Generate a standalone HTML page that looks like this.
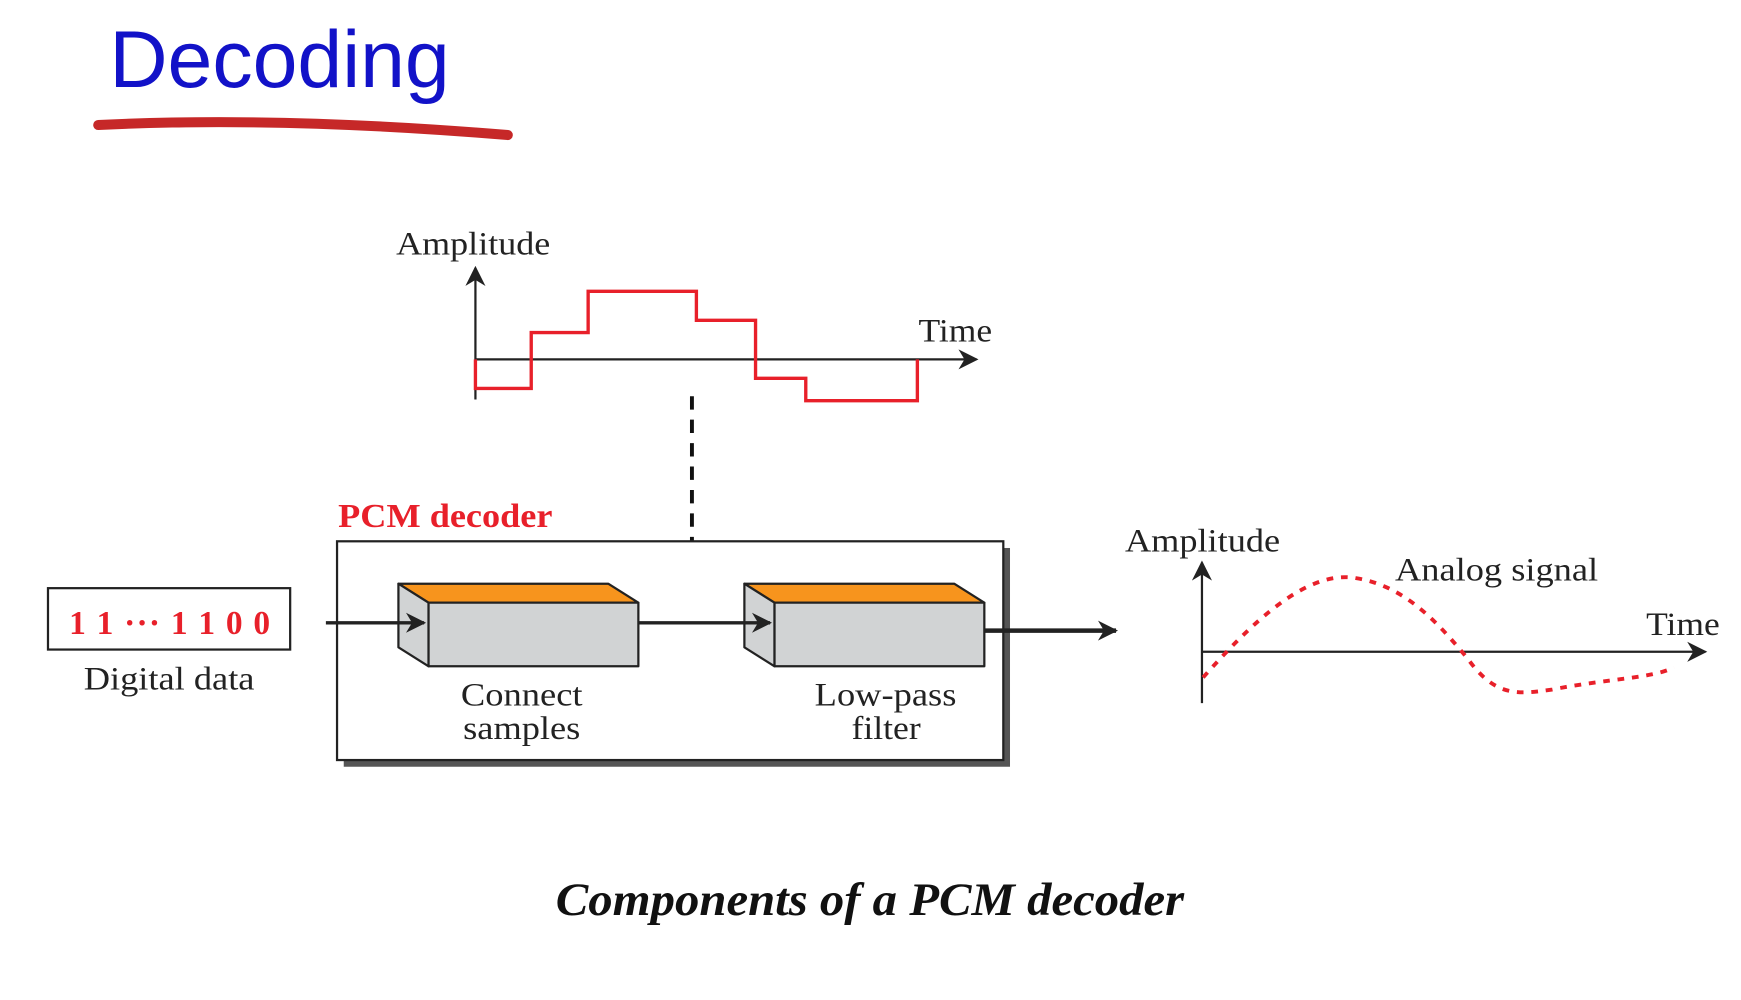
<!DOCTYPE html>
<html><head><meta charset="utf-8"><style>
html,body{margin:0;padding:0;background:#fff;width:1741px;height:1000px;overflow:hidden}
svg{display:block}
.s{font-family:"Liberation Serif",serif;fill:#222}
</style></head><body>
<svg width="1741" height="1000" viewBox="0 0 1560 896" preserveAspectRatio="none" xmlns="http://www.w3.org/2000/svg">
<defs>
<marker id="ah2" viewBox="0 0 10 10" refX="9" refY="5" markerWidth="18" markerHeight="18" orient="auto" markerUnits="userSpaceOnUse"><path d="M0,0 L10,5 L0,10 L3,5z" fill="#222"/></marker>
</defs>
<text x="98" y="78" font-family="Liberation Sans, sans-serif" font-size="72" fill="#1212c8" textLength="305" lengthAdjust="spacingAndGlyphs">Decoding</text>
<path d="M88,112 Q250,104 455,121" stroke="#c62828" stroke-width="9" fill="none" stroke-linecap="round"/>

<!-- top chart -->
<text class="s" x="355" y="228" font-size="29" textLength="138" lengthAdjust="spacingAndGlyphs">Amplitude</text>
<line x1="426" y1="358" x2="426" y2="240" stroke="#222" stroke-width="2" marker-end="url(#ah2)"/>
<line x1="426" y1="322" x2="875" y2="322" stroke="#222" stroke-width="2" marker-end="url(#ah2)"/>
<text class="s" x="823" y="306" font-size="29" textLength="66" lengthAdjust="spacingAndGlyphs">Time</text>
<polyline points="426,322 426,348 476,348 476,298 527,298 527,261 624,261 624,287 677,287 677,339 722,339 722,359 822,359 822,322" fill="none" stroke="#e8202a" stroke-width="3"/>
<line x1="620" y1="355" x2="620" y2="555" stroke="#111" stroke-width="3.5" stroke-dasharray="12,9"/>

<!-- PCM decoder -->
<text x="303" y="472" font-family="Liberation Serif, serif" font-weight="bold" font-size="30" fill="#e8202a" textLength="192" lengthAdjust="spacingAndGlyphs">PCM decoder</text>
<rect x="308" y="491" width="597" height="196" fill="#555"/>
<rect x="302" y="485" width="597" height="196" fill="#fff" stroke="#222" stroke-width="2"/>

<rect x="43" y="527" width="217" height="55" fill="#fff" stroke="#222" stroke-width="2"/>
<text x="62" y="568" font-family="Liberation Serif, serif" font-weight="bold" font-size="30" fill="#e8202a" textLength="180" lengthAdjust="spacing">1 1 ··· 1 1 0 0</text>
<text class="s" x="75" y="618" font-size="29" textLength="153" lengthAdjust="spacingAndGlyphs">Digital data</text>

<g stroke="#222" stroke-width="2" stroke-linejoin="round">
<polygon points="357,523 545,523 572,540 384,540" fill="#f7941d"/>
<polygon points="357,523 384,540 384,597 357,580" fill="#d1d3d4"/>
<rect x="384" y="540" width="188" height="57" fill="#d1d3d4"/>
<polygon points="667,523 855,523 882,540 694,540" fill="#f7941d"/>
<polygon points="667,523 694,540 694,597 667,580" fill="#d1d3d4"/>
<rect x="694" y="540" width="188" height="57" fill="#d1d3d4"/>
</g>
<line x1="292" y1="558" x2="380" y2="558" stroke="#222" stroke-width="3" marker-end="url(#ah2)"/>
<line x1="572" y1="558" x2="690" y2="558" stroke="#222" stroke-width="3" marker-end="url(#ah2)"/>
<line x1="882" y1="565" x2="1000" y2="565" stroke="#222" stroke-width="4" marker-end="url(#ah2)"/>
<text class="s" x="413" y="632" font-size="29" textLength="109" lengthAdjust="spacingAndGlyphs">Connect</text>
<text class="s" x="415" y="662" font-size="29" textLength="105" lengthAdjust="spacingAndGlyphs">samples</text>
<text class="s" x="730" y="632" font-size="29" textLength="127" lengthAdjust="spacingAndGlyphs">Low-pass</text>
<text class="s" x="763" y="662" font-size="29" textLength="62" lengthAdjust="spacingAndGlyphs">filter</text>

<!-- right chart -->
<text class="s" x="1008" y="494" font-size="29" textLength="139" lengthAdjust="spacingAndGlyphs">Amplitude</text>
<text class="s" x="1250" y="520" font-size="29" textLength="182" lengthAdjust="spacingAndGlyphs">Analog signal</text>
<text class="s" x="1475" y="569" font-size="29" textLength="66" lengthAdjust="spacingAndGlyphs">Time</text>
<line x1="1077" y1="630" x2="1077" y2="504" stroke="#222" stroke-width="2" marker-end="url(#ah2)"/>
<line x1="1077" y1="584" x2="1528" y2="584" stroke="#222" stroke-width="2" marker-end="url(#ah2)"/>
<path d="M1078,607 C1120,560 1170,510 1215,518 C1260,525 1290,560 1315,590 C1340,625 1360,622 1390,618 C1440,608 1480,608 1500,598" fill="none" stroke="#e8202a" stroke-width="3.5" stroke-dasharray="6,7"/>

<text x="498" y="820" font-family="Liberation Serif, serif" font-weight="bold" font-style="italic" font-size="42" fill="#111" textLength="563" lengthAdjust="spacingAndGlyphs">Components of a PCM decoder</text>
</svg>
</body></html>
